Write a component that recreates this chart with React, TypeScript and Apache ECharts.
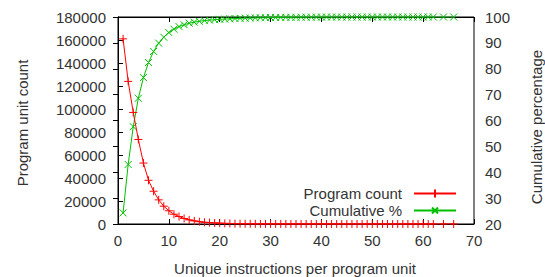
import React, { useEffect, useRef } from "react";
import * as echarts from "echarts";

const xValues = [
  1, 2, 3, 4, 5, 6, 7, 8, 9, 10, 11, 12, 13, 14, 15, 16, 17, 18, 19, 20,
  21, 22, 23, 24, 25, 26, 27, 28, 29, 30, 31, 32, 33, 34, 35, 36, 37, 38, 39, 40,
  41, 42, 43, 44, 45, 46, 47, 48, 49, 50, 51, 52, 53, 54, 55, 56, 57, 58, 59, 60,
  61, 62, 64, 66,
];

const programCount = [
  161000, 124000, 97000, 73500, 53000, 38000, 28500, 21000, 15500, 11500,
  8500, 6500, 4800, 3600, 2700, 2000, 1500, 1200, 900, 700,
  550, 450, 350, 280, 220, 180, 150, 120, 100, 85,
  70, 60, 50, 42, 36, 30, 26, 22, 19, 16,
  14, 12, 10, 9, 8, 7, 6, 5, 5, 4,
  4, 3, 3, 3, 2, 2, 2, 2, 1, 1,
  1, 1, 1, 1,
];

const cumulativePct = [
  24.3, 43.0, 57.6, 68.6, 76.6, 82.4, 86.7, 89.9, 92.2, 94.0,
  95.3, 96.3, 97.0, 97.6, 98.0, 98.35, 98.6, 98.8, 98.95, 99.1,
  99.2, 99.3, 99.4, 99.5, 99.55, 99.6, 99.65, 99.7, 99.74, 99.78,
  99.8, 99.83, 99.86, 99.88, 99.9, 99.92, 99.93, 99.94, 99.95, 99.96,
  99.965, 99.97, 99.975, 99.98, 99.983, 99.986, 99.988, 99.99, 99.991, 99.992,
  99.993, 99.994, 99.995, 99.996, 99.997, 99.997, 99.998, 99.998, 99.999, 99.999,
  99.999, 100, 100, 100,
];

const seriesNames = ["Program count", "Cumulative %"];
const seriesColors = ["#ff0000", "#00c000"];
const axisTitles = {
  x: "Unique instructions per program unit",
  yLeft: "Program unit count",
  yRight: "Cumulative percentage",
};

const FONT = "Liberation Sans";
const FS = 15;
const TEXT = "#333";
const PLUS = "path://M5,0L5,10M0,5L10,5";
const CROSS = "path://M0,0L10,10M10,0L0,10";
const LEGEND_ICONS = [
  "path://M0,4L42,4M21,0L21,8",
  "path://M0,4L42,4M18,1L24,7M24,1L18,7",
];

export default function App() {
  const ref = useRef<HTMLDivElement>(null);
  useEffect(() => {
    if (!ref.current) return;
    const chart = echarts.init(ref.current, null, { renderer: "svg" });
    const left = 118, right = 474, top = 17, bottom = 224;
    const tick = { show: true, inside: true, length: 5, lineStyle: { color: "#000" } };
    chart.setOption({
      animation: false,
      backgroundColor: "#fff",
      textStyle: { fontFamily: FONT },
      grid: {
        left,
        top,
        width: right - left,
        height: bottom - top,
        show: true,
        borderColor: "#000",
        borderWidth: 1,
        backgroundColor: "transparent",
      },
      legend: {
        orient: "vertical",
        right: 88,
        top: 186,
        align: "right",
        itemWidth: 42,
        itemHeight: 8,
        itemGap: 2,
        padding: 0,
        textStyle: { fontFamily: FONT, fontSize: FS, color: TEXT, padding: [0, 7, 0, 0] },
        data: seriesNames.map((name, i) => ({ name, icon: LEGEND_ICONS[i] })),
      },
      xAxis: [
        {
          type: "value",
          min: 0,
          max: 70,
          interval: 10,
          axisLine: { show: true, lineStyle: { color: "#000" } },
          axisTick: tick,
          axisLabel: { fontFamily: FONT, fontSize: FS, color: TEXT, margin: 9 },
          splitLine: { show: false },
        },
        {
          type: "value",
          position: "top",
          min: 0,
          max: 70,
          interval: 10,
          axisLine: { show: true, lineStyle: { color: "#000" } },
          axisTick: tick,
          axisLabel: { show: false },
          splitLine: { show: false },
        },
      ],
      yAxis: [
        {
          type: "value",
          min: 0,
          max: 180000,
          interval: 20000,
          axisLine: { show: true, lineStyle: { color: "#000" } },
          axisTick: tick,
          axisLabel: {
            fontFamily: FONT,
            fontSize: FS,
            color: TEXT,
            margin: 12,
            formatter: (v: number) => String(v),
          },
          splitLine: { show: false },
        },
        {
          type: "value",
          min: 20,
          max: 100,
          interval: 10,
          position: "right",
          axisLine: { show: true, lineStyle: { color: "#000" } },
          axisTick: tick,
          axisLabel: { fontFamily: FONT, fontSize: FS, color: TEXT, margin: 11 },
          splitLine: { show: false },
        },
      ],
      series: [
        {
          name: seriesNames[0],
          type: "line",
          yAxisIndex: 0,
          data: xValues.map((x, i) => [x, programCount[i]]),
          symbol: PLUS,
          symbolSize: 8,
          showAllSymbol: true,
          lineStyle: { color: seriesColors[0], width: 1 },
          itemStyle: { color: seriesColors[0], borderColor: seriesColors[0], borderWidth: 1 },
          z: 3,
        },
        {
          name: seriesNames[1],
          type: "line",
          yAxisIndex: 1,
          data: xValues.map((x, i) => [x, cumulativePct[i]]),
          symbol: CROSS,
          symbolSize: 7,
          showAllSymbol: true,
          lineStyle: { color: seriesColors[1], width: 1 },
          itemStyle: { color: seriesColors[1], borderColor: seriesColors[1], borderWidth: 1 },
          z: 2,
        },
      ],
      graphic: [
        {
          type: "text",
          x: 22,
          y: 123,
          rotation: Math.PI / 2,
          style: {
            text: axisTitles.yLeft,
            font: `${FS}px "${FONT}"`,
            fill: TEXT,
            textAlign: "center",
            textVerticalAlign: "middle",
          },
        },
        {
          type: "text",
          x: 536,
          y: 127,
          rotation: Math.PI / 2,
          style: {
            text: axisTitles.yRight,
            font: `${FS}px "${FONT}"`,
            fill: TEXT,
            textAlign: "center",
            textVerticalAlign: "middle",
          },
        },
        {
          type: "text",
          x: 295,
          y: 268,
          style: {
            text: axisTitles.x,
            font: `${FS}px "${FONT}"`,
            fill: TEXT,
            textAlign: "center",
            textVerticalAlign: "middle",
          },
        },
      ],
    });
    return () => chart.dispose();
  }, []);
  return <div ref={ref} style={{ width: 545, height: 277, position: "absolute", left: 0, top: 0 }} />;
}
